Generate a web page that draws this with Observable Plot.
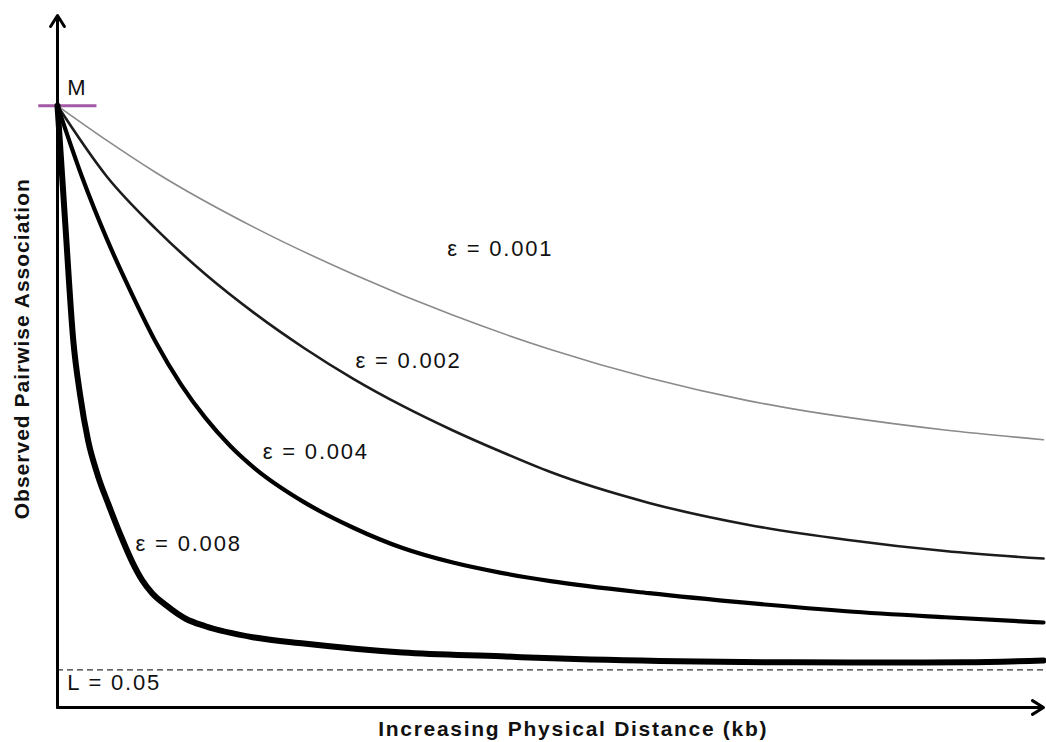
<!DOCTYPE html>
<html>
<head>
<meta charset="utf-8">
<script src="https://cdn.jsdelivr.net/npm/d3@7"></script>
<script src="https://cdn.jsdelivr.net/npm/@observablehq/plot@0.6"></script>
<style>
  html, body { margin: 0; padding: 0; background: #fff; }
  #chart svg { display: block; }
  .curve-label text { letter-spacing: 1.8px; }
  .x-title text { letter-spacing: 1.7px; }
  .y-title text { letter-spacing: 1px; }
</style>
</head>
<body>
<div id="chart"></div>
<script>
// Decay of pairwise association with physical distance, for four decay rates ε.
const M = 0.80;   // maximum association at zero distance
const L = 0.05;   // background association level

const epsLabels = ["ε = 0.001", "ε = 0.002", "ε = 0.004", "ε = 0.008"];

// distance (kb) and association for each curve
const dist001  = [0, 50, 100, 200, 300, 400, 500, 600, 700, 800, 900, 1000];
const assoc001 = [0.800, 0.754, 0.711, 0.638, 0.576, 0.522, 0.476, 0.438, 0.408, 0.386, 0.369, 0.356];

const dist002  = [0, 50, 100, 150, 200, 250, 300, 350, 400, 450, 500, 600, 700, 800, 900, 1000];
const assoc002 = [0.800, 0.706, 0.636, 0.576, 0.524, 0.478, 0.437, 0.401, 0.369, 0.340, 0.313, 0.272, 0.243, 0.223, 0.208, 0.198];

const dist004  = [0, 25, 50, 75, 100, 125, 150, 175, 200, 250, 300, 350, 400, 450, 500, 600, 700, 800, 900, 1000];
const assoc004 = [0.800, 0.705, 0.623, 0.551, 0.485, 0.430, 0.385, 0.348, 0.318, 0.273, 0.239, 0.212, 0.193, 0.179, 0.168, 0.152, 0.139, 0.128, 0.120, 0.113];

const dist008  = [0, 8, 16, 23, 31, 41, 52, 64, 76, 86, 96, 110, 130, 150, 200, 250, 350, 450, 510, 650, 750, 850, 920, 1000];
const assoc008 = [0.800, 0.641, 0.488, 0.415, 0.355, 0.308, 0.269, 0.229, 0.193, 0.169, 0.152, 0.136, 0.118, 0.108, 0.093, 0.085, 0.073, 0.068, 0.065, 0.061, 0.060, 0.0597, 0.060, 0.0625];

const xTitle = "Increasing Physical Distance (kb)";
const yTitle = "Observed Pairwise Association";

const series = [
  {label: epsLabels[0], d: dist001, a: assoc001},
  {label: epsLabels[1], d: dist002, a: assoc002},
  {label: epsLabels[2], d: dist004, a: assoc004},
  {label: epsLabels[3], d: dist008, a: assoc008}
];
const toRows = (s) => s.d.map((d, i) => ({d, a: s.a[i]}));

// stroke styling per curve (thin grey to heavy black)
const curveStyle = [
  {stroke: "#8a8a8a", strokeWidth: 1.6},
  {stroke: "#1c1c1c", strokeWidth: 2.6},
  {stroke: "#000", strokeWidth: 4.2},
  {stroke: "#000", strokeWidth: 6}
];

// where each ε label sits (kb, association)
const labelAt = [
  {x: 449, y: 0.609},
  {x: 356, y: 0.461},
  {x: 262, y: 0.340},
  {x: 133, y: 0.218}
];
const labelRows = epsLabels.map((t, i) => ({t, ...labelAt[i]}));

const X_MAX = 1000, Y_MAX = 0.92;

const chart = Plot.plot({
  width: 1046,
  height: 742,
  marginLeft: 57,
  marginRight: 3,
  marginTop: 15,
  marginBottom: 35,
  x: {domain: [0, X_MAX], axis: null},
  y: {domain: [0, Y_MAX], axis: null},
  style: {
    background: "#fff",
    fontFamily: "'Liberation Sans', Arial, sans-serif",
    overflow: "visible"
  },
  marks: [
    // background level L
    Plot.ruleY([L], {stroke: "#333", strokeWidth: 1.2, strokeDasharray: "6,4"}),

    // axes drawn as arrows
    Plot.arrow([{x1: 0, y1: 0, x2: X_MAX, y2: 0}], {
      x1: "x1", y1: "y1", x2: "x2", y2: "y2",
      stroke: "#000", strokeWidth: 3, headLength: 6.5, headAngle: 64
    }),
    Plot.arrow([{x1: 0, y1: 0, x2: 0, y2: Y_MAX}], {
      x1: "x1", y1: "y1", x2: "x2", y2: "y2",
      stroke: "#000", strokeWidth: 3, headLength: 6.5, headAngle: 64
    }),

    // marker for the maximum M
    Plot.ruleY([M], {x1: -19, x2: 40, stroke: "#a35aa6", strokeWidth: 3.2}),

    // decay curves
    ...series.map((s, i) => Plot.line(toRows(s), {
      x: "d", y: "a", curve: "monotone-x",
      stroke: curveStyle[i].stroke,
      strokeWidth: curveStyle[i].strokeWidth,
      strokeLinejoin: "round", strokeLinecap: "round"
    })),

    // curve labels
    Plot.text(labelRows, {
      x: "x", y: "y", text: "t", fontSize: 22, fill: "#111",
      textAnchor: "middle", className: "curve-label"
    }),
    Plot.text(["M"], {x: 20, y: 0.824, fontSize: 22, fill: "#111", className: "curve-label"}),
    Plot.text([`L = ${L}`], {
      x: 10, y: 0.032, fontSize: 22, fill: "#111",
      textAnchor: "start", className: "curve-label"
    }),

    // axis titles
    Plot.text([xTitle], {
      x: 523, y: -0.0293, fontSize: 21, fontWeight: "bold", fill: "#111",
      className: "x-title"
    }),
    Plot.text([yTitle], {
      x: -35.5, y: 0.477, rotate: -90, fontSize: 21, fontWeight: "bold", fill: "#111",
      className: "y-title"
    })
  ]
});

document.getElementById("chart").appendChild(chart);
</script>
</body>
</html>
